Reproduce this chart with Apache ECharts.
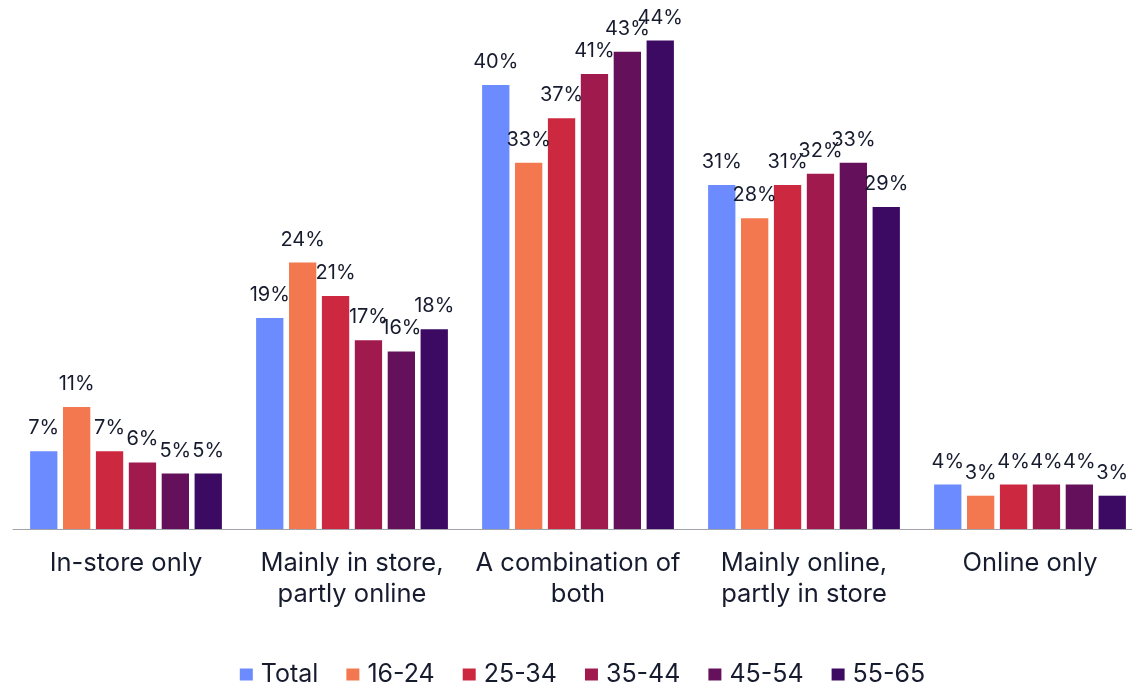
<!DOCTYPE html>
<html>
<head>
<meta charset="utf-8">
<script src="https://cdn.jsdelivr.net/npm/echarts@6/dist/echarts.min.js"></script>
<style>
html,body{margin:0;padding:0;background:#fff;overflow:hidden;width:1132px;height:685px;}
#chart{width:1165px;height:685px;}
</style>
</head>
<body>
<div id="chart"></div>
<script>
const categories = ["In-store only", "Mainly in store,\npartly online", "A combination of\nboth", "Mainly online,\npartly in store", "Online only"];
const seriesNames = ["Total", "16-24", "25-34", "35-44", "45-54", "55-65"];
const total = [7, 19, 40, 31, 4];
const age1624 = [11, 24, 33, 28, 3];
const age2534 = [7, 21, 37, 31, 4];
const age3544 = [6, 17, 41, 32, 4];
const age4554 = [5, 16, 43, 33, 4];
const age5565 = [5, 18, 44, 29, 3];
const seriesData = [total, age1624, age2534, age3544, age4554, age5565];
const colors = ["#6b8bff", "#f3784f", "#cc2940", "#a11a4e", "#64105a", "#3c0a62"];

const font = "Inter, 'Noto Sans', sans-serif";
const textColor = "#161b2e";

const chart = echarts.init(document.getElementById('chart'), null, {renderer: 'canvas'});
chart.setOption({
  animation: false,
  color: colors,
  grid: {left: 13, right: 22, top: 29.5, bottom: 156, containLabel: false},
  legend: {
    top: 657,
    left: 'center',
    itemWidth: 13,
    itemHeight: 12,
    itemGap: 28,
    icon: 'rect',
    textStyle: {fontFamily: font, fontSize: 25, color: textColor, padding: [0, 0, 0, 3]},
    data: seriesNames
  },
  xAxis: {
    type: 'category',
    data: categories,
    axisLine: {lineStyle: {color: '#a3a3ab', width: 1}},
    axisTick: {show: false},
    axisLabel: {interval: 0, fontFamily: font, fontSize: 25.5, color: textColor, lineHeight: 31, margin: 19}
  },
  yAxis: {
    type: 'value', min: 0, max: 45,
    show: false,
    splitLine: {show: false}
  },
  series: seriesNames.map((name, i) => ({
    name: name,
    type: 'bar',
    data: seriesData[i],
    barWidth: 27.3,
    barGap: '20.5%',
    itemStyle: {color: colors[i]},
    label: {
      show: true,
      position: 'top',
      distance: 13,
      formatter: '{c}%',
      fontFamily: font,
      fontSize: 20,
      color: textColor
    }
  }))
});
</script>
</body>
</html>
